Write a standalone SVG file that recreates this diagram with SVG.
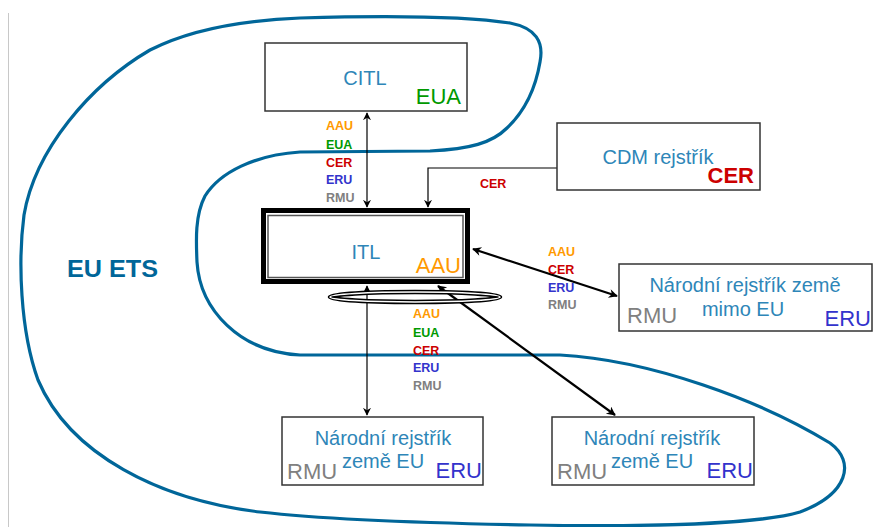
<svg xmlns="http://www.w3.org/2000/svg" width="886" height="527" viewBox="0 0 886 527">
  <defs>
    <marker id="arr" viewBox="0 0 10 10" refX="9" refY="5" markerWidth="8" markerHeight="8" markerUnits="userSpaceOnUse" orient="auto-start-reverse">
      <path d="M0,0 L10,5 L0,10 L3,5 Z" fill="#000"/>
    </marker>
    <marker id="arrB" viewBox="0 0 10 10" refX="9" refY="5" markerWidth="10" markerHeight="9" markerUnits="userSpaceOnUse" orient="auto-start-reverse">
      <path d="M0,0 L10,5 L0,10 L3,5 Z" fill="#000"/>
    </marker>
  </defs>
  <style>
    .box { fill: #fff; stroke: #333; stroke-width: 1.5; }
    .name { font-family: "Liberation Sans", Arial, sans-serif; font-size: 20px; fill: #2E86B8; }
    .unit { font-family: "Liberation Sans", Arial, sans-serif; font-size: 22px; }
    .lbl { font-family: "Liberation Sans", Arial, sans-serif; font-size: 12.5px; font-weight: bold; }
    .aau { fill: #FF9900; }
    .eua { fill: #009900; }
    .cer { fill: #CC0000; }
    .eru { fill: #3333CC; }
    .rmu { fill: #808080; }
    .thin { stroke: #000; stroke-width: 1.2; fill: none; }
    .thick { stroke: #000; stroke-width: 2.2; fill: none; }
  </style>

  <rect width="886" height="527" fill="#fff"/>
  <line x1="8.5" y1="13" x2="8.5" y2="527" stroke="#c8c8c8" stroke-width="1"/>

  <!-- EU ETS boundary -->
  <g id="eu-ets">
    <path d="M300 18 C400 15 470 17 510 23 C536 28 544 42 540 62 C536 86 526 110 507 128 C492 143 470 149 430 151 L300 152 C255 155 220 172 205 196 C195 215 196 240 197 262 C200 310 240 352 300 355 L560 355 C650 360 760 400 830 443 C856 462 848 494 800 512 C760 524 650 527 530 525 C420 523 330 520 260 512 C160 500 70 455 38 380 C20 330 18 260 24 215 C35 150 90 85 150 50 C195 27 250 20 300 18 Z" fill="none" stroke="#006699" stroke-width="3.2"/>
    <text x="67" y="277" font-family="'Liberation Sans', Arial, sans-serif" font-size="24" font-weight="bold" fill="#006699" textLength="91" lengthAdjust="spacingAndGlyphs">EU ETS</text>
  </g>

  <!-- connectors -->
  <g id="connectors">
    <line class="thin" x1="367" y1="113" x2="367" y2="207" marker-start="url(#arr)" marker-end="url(#arr)"/>
    <polyline class="thin" points="557,168 428,168 428,207" stroke="#333" marker-end="url(#arr)"/>
    <line class="thick" x1="473" y1="249" x2="617" y2="296" marker-start="url(#arrB)" marker-end="url(#arrB)"/>
    <line class="thin" x1="367" y1="286" x2="367" y2="415" marker-start="url(#arr)" marker-end="url(#arr)"/>
    <line class="thick" x1="438" y1="286" x2="615" y2="415" marker-start="url(#arrB)" marker-end="url(#arrB)"/>

    <text class="lbl aau" x="326" y="130">AAU</text>
    <text class="lbl eua" x="326" y="149">EUA</text>
    <text class="lbl cer" x="326" y="167">CER</text>
    <text class="lbl eru" x="326" y="184">ERU</text>
    <text class="lbl rmu" x="326" y="202">RMU</text>

    <text class="lbl cer" x="480" y="188">CER</text>

    <text class="lbl aau" x="548" y="256">AAU</text>
    <text class="lbl cer" x="548" y="274">CER</text>
    <text class="lbl eru" x="548" y="292">ERU</text>
    <text class="lbl rmu" x="548" y="309">RMU</text>

    <text class="lbl aau" x="413" y="318">AAU</text>
    <text class="lbl eua" x="413" y="337">EUA</text>
    <text class="lbl cer" x="413" y="355">CER</text>
    <text class="lbl eru" x="413" y="372">ERU</text>
    <text class="lbl rmu" x="413" y="390">RMU</text>
  </g>

  <!-- CITL -->
  <g id="citl">
    <rect class="box" x="265" y="43" width="202" height="68"/>
    <text class="name" x="365" y="85" text-anchor="middle" font-size="21">CITL</text>
    <text class="unit eua" x="461" y="104" text-anchor="end">EUA</text>
  </g>

  <!-- ITL -->
  <g id="itl">
    <ellipse cx="415" cy="297" rx="85" ry="5" fill="none" stroke="#000" stroke-width="4.5"/>
    <ellipse cx="415" cy="297" rx="85" ry="5" fill="none" stroke="#fff" stroke-width="1.6"/>
    <rect x="263.5" y="210.5" width="204" height="71" fill="#fff" stroke="#000" stroke-width="5"/>
    <rect x="268" y="215.5" width="195" height="62" fill="none" stroke="#555" stroke-width="1.5"/>
    <text class="name" x="366" y="259" text-anchor="middle" font-size="22">ITL</text>
    <text class="unit aau" x="461" y="273" text-anchor="end">AAU</text>
  </g>

  <!-- CDM registry -->
  <g id="cdm">
    <rect class="box" x="557" y="123" width="203" height="67"/>
    <text class="name" x="658" y="164" text-anchor="middle" font-size="21">CDM rejstřík</text>
    <text class="unit cer" x="754" y="183" text-anchor="end" font-weight="bold">CER</text>
  </g>

  <!-- Non-EU national registry -->
  <g id="mimo-eu">
    <rect class="box" x="619" y="264" width="253" height="67"/>
    <text class="name" x="745" y="292" text-anchor="middle">Národní rejstřík země</text>
    <text class="name" x="743" y="316" text-anchor="middle">mimo EU</text>
    <text class="unit rmu" x="627" y="323">RMU</text>
    <text class="unit eru" x="871" y="326" text-anchor="end">ERU</text>
  </g>

  <!-- EU national registry (left) -->
  <g id="eu-reg-1">
    <rect class="box" x="282" y="417" width="201" height="68"/>
    <text class="name" x="383" y="445" text-anchor="middle">Národní rejstřík</text>
    <text class="name" x="383" y="468" text-anchor="middle">země EU</text>
    <text class="unit rmu" x="287" y="479">RMU</text>
    <text class="unit eru" x="482" y="478" text-anchor="end">ERU</text>
  </g>

  <!-- EU national registry (right) -->
  <g id="eu-reg-2">
    <rect class="box" x="552" y="417" width="202" height="68"/>
    <text class="name" x="652" y="445" text-anchor="middle">Národní rejstřík</text>
    <text class="name" x="652" y="468" text-anchor="middle">země EU</text>
    <text class="unit rmu" x="557" y="479">RMU</text>
    <text class="unit eru" x="753" y="478" text-anchor="end">ERU</text>
  </g>
</svg>
